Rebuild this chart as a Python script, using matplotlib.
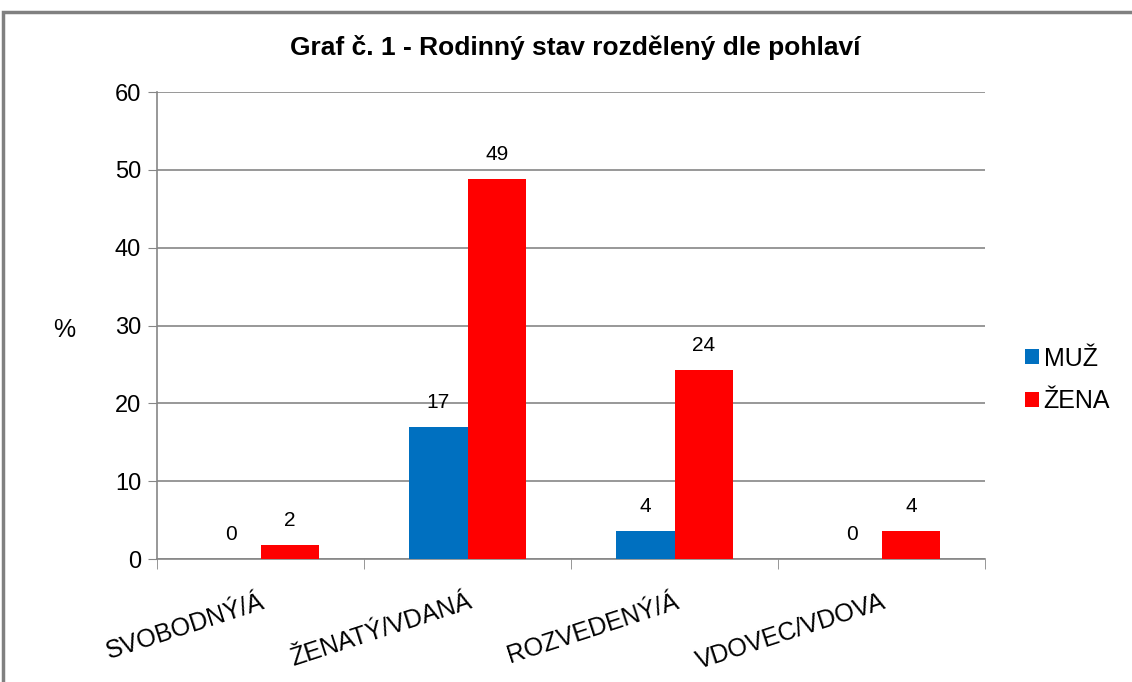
import numpy as np
import matplotlib.pyplot as plt
from matplotlib.patches import Rectangle

# data
kategorie = ["SVOBODNÝ/Á", "ŽENATÝ/VDANÁ", "ROZVEDENÝ/Á", "VDOVEC/VDOVA"]
muz = [0, 17.0, 3.6, 0]
zena = [1.8, 48.8, 24.3, 3.6]
muz_popisky = ["0", "17", "4", "0"]
zena_popisky = ["2", "49", "24", "4"]

plt.rcParams['font.family'] = ['Liberation Sans', 'DejaVu Sans']

fig = plt.figure(figsize=(11.32, 6.82), dpi=100)
ax = fig.add_axes([157/1132, 1-559/682, 828/1132, 467/682])

x = np.arange(len(kategorie))
w = 0.285
b1 = ax.bar(x - w/2, muz, w, color="#0070C0", label="MUŽ", zorder=3)
b2 = ax.bar(x + w/2, zena, w, color="#FF0000", label="ŽENA", zorder=3)

for bars, labs in ((b1, muz_popisky), (b2, zena_popisky)):
    for r, t in zip(bars, labs):
        ax.annotate(t, (r.get_x() + r.get_width()/2, r.get_height()),
                    xytext=(0, 17.5), textcoords="offset points",
                    ha="center", va="center", fontsize=15)

ax.set_xlim(-0.5, 3.5)
ax.set_ylim(0, 60)
ax.set_yticks(range(0, 61, 10))
ax.tick_params(axis="y", labelsize=17, length=6.5, color="#868686", pad=5)
ax.yaxis.grid(True, color="#868686", linewidth=1.2, zorder=0)
ax.set_axisbelow(True)

ax.set_xticks(x)
ax.set_xticklabels(kategorie, rotation=18, ha="right", rotation_mode="anchor",
                   fontsize=18)
ax.tick_params(axis="x", which="major", length=0, pad=22)
ax.set_xticks(np.arange(-0.5, 4, 1), minor=True)
ax.tick_params(axis="x", which="minor", length=7, color="#868686")

for s in ("top", "right"):
    ax.spines[s].set_visible(False)
for s in ("left", "bottom"):
    ax.spines[s].set_color("#868686")
    ax.spines[s].set_linewidth(1.2)

fig.text(64/1132, 1-330/682, "%", ha="center", va="center", fontsize=18)

fig.text(575/1132, 1-48/682, "Graf č. 1 - Rodinný stav rozdělený dle pohlaví",
         ha="center", va="center", fontsize=19, fontweight="bold")

ax.legend(loc="center left", bbox_to_anchor=(1025/1132, 1-380/682),
          bbox_transform=fig.transFigure, frameon=False, fontsize=18,
          handlelength=0.55, handleheight=0.55, handletextpad=0.2,
          labelspacing=0.75, borderaxespad=0, borderpad=0)

# ramecek grafu
fig.patches.append(Rectangle((3/1132, -0.05), 1.1, 1-12/682 + 0.05,
                             transform=fig.transFigure, fill=False,
                             edgecolor="#808080", linewidth=2.5))

fig.savefig("out.png", dpi=100)
